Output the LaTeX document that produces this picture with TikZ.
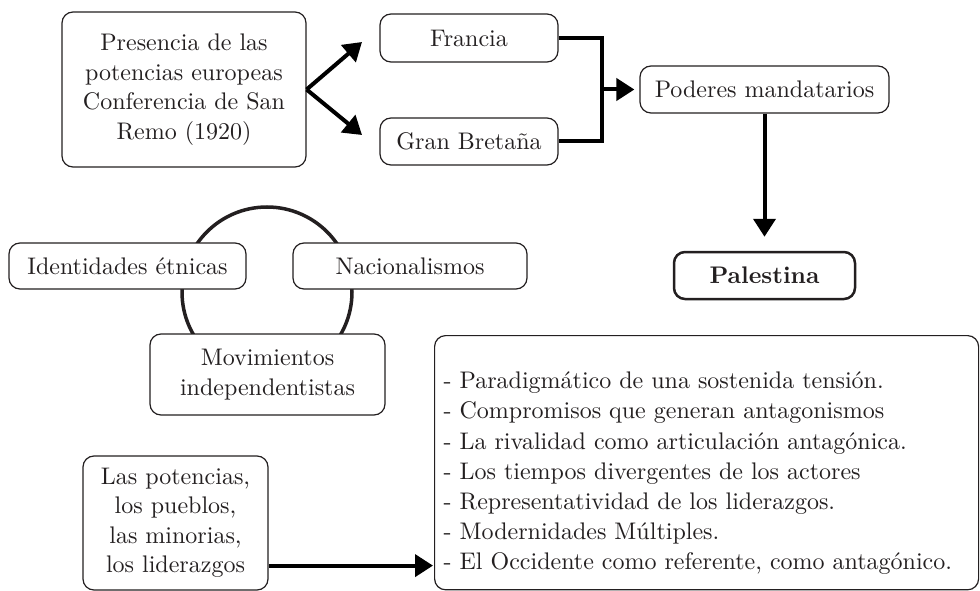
\documentclass[tikz,border=0pt]{standalone}
\usepackage{fontspec}
\setmainfont{lmroman10}[Extension=.otf,UprightFont=*-regular,BoldFont=*-bold,ItalicFont=*-italic,BoldItalicFont=*-bolditalic]
\usetikzlibrary{arrows.meta,calc}
\definecolor{ink}{HTML}{231F20}
\begin{document}
\begin{tikzpicture}[x=1pt,y=-1pt,
  every node/.style={font=\fontsize{24}{29.5}\selectfont, text=ink},
  box/.style={draw=ink, line width=1.2pt, rounded corners=11pt, fill=white, align=center, inner sep=0pt},
  conn/.style={line width=4pt, draw=black},
  arr/.style={conn, -{Triangle[length=18pt,width=22pt]}}]
\useasboundingbox (0,0) rectangle (980,591);
% circle behind the three boxes
\draw[line width=3.5pt, draw=ink] (267,292) circle[radius=85];
% nodes
\node[box, minimum width=244pt, minimum height=155pt] (pres) at (184,89.5) {Presencia de las\\potencias europeas\\Conferencia de San\\Remo (1920)};
\node[box, minimum width=178pt, minimum height=48pt] (fr) at (469,38) {Francia};
\node[box, minimum width=178pt, minimum height=47pt] (gb) at (469,141.5) {Gran Bretaña};
\node[box, minimum width=249pt, minimum height=47pt] (pod) at (764.5,89.5) {Poderes mandatarios};
\node[box, line width=2.5pt, minimum width=181pt, minimum height=47pt] (pal) at (764.5,275.5) {\textbf{Palestina}};
\node[box, minimum width=237pt, minimum height=46pt] (ide) at (127.5,266) {Identidades étnicas};
\node[box, minimum width=234pt, minimum height=46pt] (nac) at (410,266) {Nacionalismos};
\node[box, minimum width=235pt, minimum height=81pt] (mov) at (267.5,374.5) {Movimientos\\independentistas};
\node[box, minimum width=185pt, minimum height=134pt] (lp) at (175.5,523) {Las potencias,\\los pueblos,\\las minorias,\\los liderazgos};
\node[box, align=left, text width=526pt, inner xsep=9pt, inner ysep=0pt, anchor=north west,
  font=\fontsize{24}{30.2}\selectfont] (list) at (434,335)
  {\rule{0pt}{53pt}- Paradigmático de una sostenida tensión.\\
   - Compromisos que generan antagonismos\\
   - La rivalidad como articulación antagónica.\\
   - Los tiempos divergentes de los actores\\
   - Representatividad de los liderazgos.\\
   - Modernidades Múltiples.\\
   - El Occidente como referente, como antagónico.\rule[-20pt]{0pt}{20pt}};
% connectors
\coordinate (ftip) at (362,42);
\coordinate (gtip) at (362,135);
\draw[arr] (pres.east) -- (ftip);
\draw[arr] (pres.east) -- (gtip);
\draw[conn] (fr.east) -- ++(43,0) |- (gb.east);
\coordinate (jn) at (601,89.5);
\draw[arr, shorten >=5pt] (jn) -- (pod.west);
\draw[arr, shorten >=14pt] (pod.south) -- (pal.north);
\coordinate (la) at ($(lp.south east)+(0,-25)$);
\draw[arr, shorten >=1pt] (la) -- (la -| list.west);
\end{tikzpicture}
\end{document}
